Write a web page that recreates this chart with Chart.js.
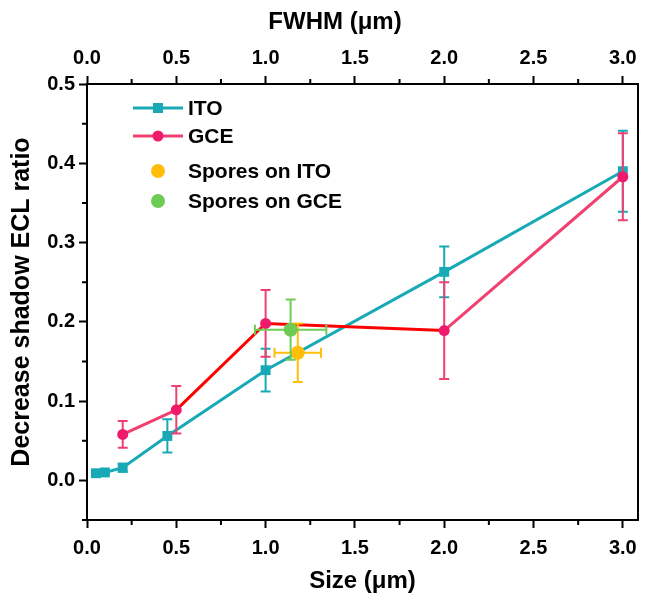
<!DOCTYPE html>
<html><head><meta charset="utf-8">
<script src="https://cdn.jsdelivr.net/npm/chart.js@4"></script>
<style>html,body{margin:0;padding:0;background:#fff}#wrap{width:645px;height:593px}</style>
</head><body><div id="wrap"><canvas id="c" width="645" height="593"></canvas></div>
<script>
// ---- data ----
const itoSize  = [0.05, 0.1, 0.2, 0.45, 1.0, 2.0, 3.0];
const itoRatio = [0.009, 0.010, 0.016, 0.056, 0.139, 0.263, 0.390];
const itoErr   = [0.003, 0.003, 0.005, 0.021, 0.027, 0.032, 0.051];

const gceSize  = [0.2, 0.5, 1.0, 2.0, 3.0];
const gceRatio = [0.058, 0.089, 0.198, 0.189, 0.383];
const gceErr   = [0.017, 0.030, 0.042, 0.061, 0.055];

const sporesItoSize  = [1.18];
const sporesItoRatio = [0.161];
const sporesItoXErr  = [0.13];
const sporesItoYErr  = [0.037];

const sporesGceSize  = [1.14];
const sporesGceRatio = [0.190];
const sporesGceXErr  = [0.20];
const sporesGceYErr  = [0.038];

const xTickValues = [0, 0.5, 1.0, 1.5, 2.0, 2.5, 3.0];
const yTickValues = [0.0, 0.1, 0.2, 0.3, 0.4, 0.5];
const seriesNames = ['ITO', 'GCE', 'Spores on ITO', 'Spores on GCE'];
const topTitle = 'FWHM (μm)';

// ---- styles ----
const TEAL = '#17AAB6';
const PINK_LINE = '#F0406F';
const PINK_PT = '#F01A6C';
const RED = '#FF0000';
const YELLOW = '#FFBE0A';
const GREEN = '#6ECC55';
const FONT = "'Liberation Sans', Arial, sans-serif";
const redSegments = [1, 2];

const pts = (xs, ys) => xs.map((x, i) => ({x, y: ys[i]}));

const errorSpec = {
  ITO: {color: TEAL, y: itoErr},
  GCE: {color: PINK_LINE, y: gceErr},
  'Spores on ITO': {color: YELLOW, y: sporesItoYErr, x: sporesItoXErr},
  'Spores on GCE': {color: GREEN, y: sporesGceYErr, x: sporesGceXErr}
};

const errorBars = {
  id: 'errorBars',
  beforeDatasetDraw(chart, args) {
    const ds = chart.data.datasets[args.index];
    const spec = errorSpec[ds.label];
    if (!spec) return;
    const ctx = chart.ctx, xs = chart.scales.x, ys = chart.scales.y;
    const cap = 5;
    ctx.save();
    ctx.strokeStyle = spec.color;
    ctx.lineWidth = 2;
    ds.data.forEach((p, i) => {
      const px = xs.getPixelForValue(p.x), py = ys.getPixelForValue(p.y);
      if (spec.y) {
        const e = spec.y[i];
        const t = ys.getPixelForValue(p.y + e), b = ys.getPixelForValue(p.y - e);
        ctx.beginPath();
        ctx.moveTo(px, t); ctx.lineTo(px, b);
        ctx.moveTo(px - cap, t); ctx.lineTo(px + cap, t);
        ctx.moveTo(px - cap, b); ctx.lineTo(px + cap, b);
        ctx.stroke();
      }
      if (spec.x) {
        const e = spec.x[i];
        const l = xs.getPixelForValue(p.x - e), r = xs.getPixelForValue(p.x + e);
        ctx.beginPath();
        ctx.moveTo(l, py); ctx.lineTo(r, py);
        ctx.moveTo(l, py - cap); ctx.lineTo(l, py + cap);
        ctx.moveTo(r, py - cap); ctx.lineTo(r, py + cap);
        ctx.stroke();
      }
    });
    ctx.restore();
  }
};

const frameAndMinor = {
  id: 'frameAndMinor',
  afterDraw(chart) {
    const {ctx, chartArea: a, scales} = chart;
    ctx.save();
    ctx.strokeStyle = '#000';
    ctx.lineWidth = 2;
    ctx.strokeRect(a.left, a.top, a.right - a.left, a.bottom - a.top);
    ctx.beginPath();
    for (let v = 0.25; v < 3.0; v += 0.5) {
      const px = scales.x.getPixelForValue(v);
      ctx.moveTo(px, a.bottom); ctx.lineTo(px, a.bottom + 5);
      ctx.moveTo(px, a.top); ctx.lineTo(px, a.top - 5);
    }
    for (let v = -0.05; v < 0.5; v += 0.1) {
      const py = scales.y.getPixelForValue(v);
      ctx.moveTo(a.left, py); ctx.lineTo(a.left - 5, py);
    }
    ctx.stroke();
    // top axis title (sits left of centre in the reference)
    ctx.fillStyle = '#000';
    ctx.font = 'bold 24px ' + FONT;
    ctx.textAlign = 'center';
    ctx.textBaseline = 'middle';
    ctx.fillText(topTitle, 335, 22);
    ctx.restore();
  }
};

const customLegend = {
  id: 'customLegend',
  afterDraw(chart) {
    const ctx = chart.ctx;
    const rows = [
      {name: seriesNames[0], y: 108, line: TEAL, mk: 'rect', fill: TEAL},
      {name: seriesNames[1], y: 136, line: PINK_LINE, mk: 'circle', fill: PINK_PT},
      {name: seriesNames[2], y: 171, line: null, mk: 'big', fill: YELLOW},
      {name: seriesNames[3], y: 201, line: null, mk: 'big', fill: GREEN}
    ];
    ctx.save();
    rows.forEach(r => {
      if (r.line) {
        ctx.strokeStyle = r.line; ctx.lineWidth = 3;
        ctx.beginPath(); ctx.moveTo(133, r.y); ctx.lineTo(183, r.y); ctx.stroke();
      }
      ctx.fillStyle = r.fill;
      ctx.beginPath();
      if (r.mk === 'rect') ctx.rect(158 - 5, r.y - 5, 10, 10);
      else if (r.mk === 'circle') ctx.arc(158, r.y, 5.5, 0, Math.PI * 2);
      else ctx.arc(158, r.y, 7, 0, Math.PI * 2);
      ctx.fill();
      ctx.fillStyle = '#000';
      ctx.font = 'bold 21px ' + FONT;
      ctx.textAlign = 'left'; ctx.textBaseline = 'middle';
      ctx.fillText(r.name, 188, r.y + 1);
    });
    ctx.restore();
  }
};

const tickFont = {family: FONT, size: 20, weight: 'bold'};
const titleFont = {family: FONT, size: 24, weight: 'bold'};
const yTitleFont = {family: FONT, size: 25, weight: 'bold'};

new Chart(document.getElementById('c'), {
  type: 'scatter',
  data: {
    datasets: [
      {label: seriesNames[3], data: pts(sporesGceSize, sporesGceRatio), showLine: false,
       pointRadius: 7, pointHoverRadius: 7, pointBackgroundColor: GREEN, pointBorderWidth: 0},
      {label: seriesNames[2], data: pts(sporesItoSize, sporesItoRatio), showLine: false,
       pointRadius: 7, pointHoverRadius: 7, pointBackgroundColor: YELLOW, pointBorderWidth: 0},
      {label: seriesNames[1], data: pts(gceSize, gceRatio), showLine: true, borderColor: PINK_LINE,
       borderWidth: 3, pointStyle: 'circle', pointRadius: 5.5, pointBackgroundColor: PINK_PT,
       pointBorderWidth: 0,
       segment: {borderColor: c => redSegments.includes(c.p0DataIndex) ? RED : undefined}},
      {label: seriesNames[0], data: pts(itoSize, itoRatio), showLine: true, borderColor: TEAL,
       borderWidth: 3, pointStyle: 'rect', pointRadius: 7, pointBackgroundColor: TEAL,
       pointBorderWidth: 0}
    ]
  },
  options: {
    responsive: false,
    animation: false,
    devicePixelRatio: 1,
    layout: {padding: {left: 0, right: 2, top: 0, bottom: 0}},
    plugins: {legend: {display: false}, tooltip: {enabled: false}},
    scales: {
      x: {
        type: 'linear', position: 'bottom', min: 0, max: 3.085,
        afterFit: s => { s.height = 73; },
        afterBuildTicks: s => { s.ticks = xTickValues.map(v => ({value: v})); },
        border: {display: false},
        grid: {drawOnChartArea: false, drawTicks: true, tickLength: 8, tickWidth: 2, tickColor: '#000'},
        ticks: {color: '#000', font: tickFont, padding: 8, maxRotation: 0, autoSkip: false,
                callback: v => Number(v).toFixed(1)},
        title: {display: true, text: 'Size (μm)', color: '#000', font: titleFont,
                padding: {top: 0, bottom: -3}}
      },
      x2: {
        type: 'linear', position: 'top', min: 0, max: 3.085,
        afterFit: s => { s.height = 84; },
        afterBuildTicks: s => { s.ticks = xTickValues.map(v => ({value: v})); },
        border: {display: false},
        grid: {drawOnChartArea: false, drawTicks: true, tickLength: 8, tickWidth: 2, tickColor: '#000'},
        ticks: {color: '#000', font: tickFont, padding: 6, maxRotation: 0, autoSkip: false,
                callback: v => Number(v).toFixed(1)},
        title: {display: false}
      },
      y: {
        type: 'linear', position: 'left', min: -0.05, max: 0.5,
        afterFit: s => { s.width = 87; },
        afterBuildTicks: s => { s.ticks = yTickValues.map(v => ({value: v})); },
        border: {display: false},
        grid: {drawOnChartArea: false, drawTicks: true, tickLength: 8, tickWidth: 2, tickColor: '#000'},
        ticks: {color: '#000', font: tickFont, padding: 4, callback: v => Number(v).toFixed(1)},
        title: {display: true, text: 'Decrease shadow ECL ratio', color: '#000', font: yTitleFont,
                padding: {top: 7, bottom: 0}}
      }
    }
  },
  plugins: [errorBars, frameAndMinor, customLegend]
});
</script>
</body></html>
